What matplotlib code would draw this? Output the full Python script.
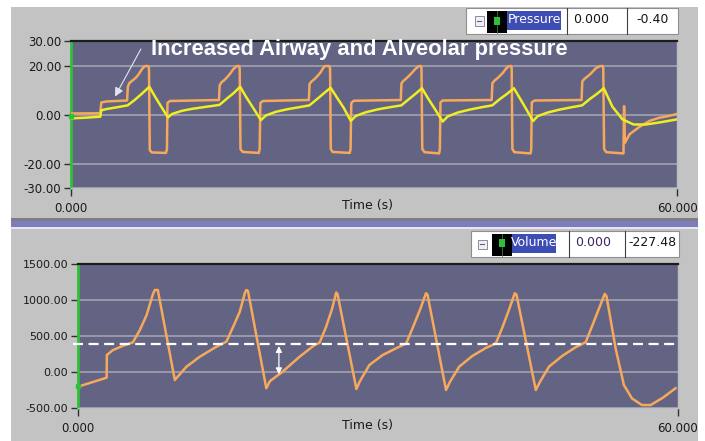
import matplotlib
matplotlib.use("Agg")
import matplotlib.pyplot as plt
from matplotlib.patches import Rectangle
from matplotlib.lines import Line2D

# ---------------- data ----------------
airway_t = [0.0, 2.9, 3.0, 3.5, 5.55, 5.63, 5.8, 6.1, 6.4, 6.7, 6.9, 7.1, 7.3, 7.6, 7.72, 7.8, 8.0, 9.4, 9.5, 9.55, 9.8,
            14.65, 14.72, 14.9, 15.2, 15.5, 15.8, 16.05, 16.4, 16.62, 16.7, 16.78, 17.0, 18.6, 18.68, 18.75, 19.0,
            23.55, 23.62, 23.8, 24.1, 24.4, 24.7, 24.9, 25.1, 25.55, 25.65, 25.72, 25.9, 27.6, 27.68, 27.75, 28.0,
            32.65, 32.72, 32.9, 33.2, 33.5, 33.8, 34.1, 34.45, 34.62, 34.7, 34.78, 35.0, 36.45, 36.52, 36.58, 36.8,
            41.65, 41.72, 41.9, 42.2, 42.5, 42.8, 43.05, 43.35, 43.56, 43.63, 43.7, 43.9, 45.5, 45.57, 45.62, 45.9,
            50.55, 50.62, 50.8, 51.1, 51.4, 51.7, 51.95, 52.35, 52.62, 52.7, 52.78, 53.0, 54.7, 54.76, 54.84,
            55.3, 56.3, 57.3, 58.2, 59.2, 60.0]
airway_p = [0.5, 0.6, 5.0, 5.4, 5.8, 11.5, 13.0, 14.0, 15.0, 16.5, 17.8, 19.0, 19.8, 19.9, 19.2, -14.5, -15.4, -15.6, -14.0, 4.8, 5.6,
            6.0, 12.0, 13.2, 14.2, 15.5, 17.0, 18.5, 19.8, 19.9, 19.0, -14.0, -15.2, -15.6, -14.0, 4.8, 5.6,
            6.0, 12.5, 13.5, 14.5, 15.8, 17.2, 18.6, 19.8, 19.9, 19.0, -14.0, -15.2, -15.6, -14.0, 4.8, 5.7,
            6.0, 12.8, 13.8, 14.8, 16.0, 17.3, 18.7, 19.8, 19.9, 19.0, -14.0, -15.3, -15.8, -14.0, 5.0, 5.8,
            6.0, 12.8, 13.8, 14.8, 16.0, 17.3, 18.7, 19.8, 19.9, 19.0, -14.0, -15.3, -15.8, -14.0, 5.0, 5.8,
            6.0, 13.5, 14.5, 15.5, 16.5, 17.8, 18.9, 19.8, 19.9, 19.0, -14.0, -15.3, -15.8, 3.5, -11.5,
            -8.0, -4.9, -2.5, -1.3, -0.5, 0.3]

alveolar_t = [0.0, 1.5, 2.9, 3.0, 3.5, 4.5, 5.6, 6.3, 7.0, 7.76, 8.3, 8.9, 9.6, 10.0, 11.0, 12.0, 13.5, 14.7, 15.5, 16.1,
              16.75, 17.3, 18.0, 18.8, 19.3, 20.3, 21.5, 22.5, 23.6, 24.4, 25.0, 25.7, 26.3, 27.0, 27.7, 28.2, 29.2,
              30.4, 31.5, 32.7, 33.5, 34.1, 34.75, 35.3, 36.0, 36.8, 37.3, 38.3, 39.5, 40.6, 41.7, 42.5, 43.2, 43.85,
              44.4, 45.0, 45.75, 46.2, 47.2, 48.4, 49.5, 50.6, 51.4, 52.1, 52.75, 53.6, 54.6, 55.7, 56.9, 58.5, 60.0]
alveolar_p = [-1.5, -1.2, -0.8, 1.8, 2.3, 3.0, 3.8, 6.0, 8.5, 11.4, 7.5, 3.5, -1.1, 0.3, 1.6, 2.4, 3.3, 4.0, 6.8, 8.8,
              11.4, 7.5, 3.0, -2.2, -0.3, 1.2, 2.3, 3.0, 3.8, 6.5, 8.6, 11.0, 7.2, 2.8, -2.5, -0.5, 1.0,
              2.2, 3.0, 3.8, 6.5, 8.5, 10.8, 7.0, 2.5, -2.8, -0.7, 0.9, 2.1, 3.0, 3.8, 6.5, 8.6, 10.8,
              7.0, 2.8, -2.6, -0.6, 0.9, 2.1, 3.0, 3.8, 6.5, 8.6, 10.8, 3.3, -1.9, -4.0, -4.0, -3.0, -1.9]

volume_t = [0.0, 2.86, 2.89, 3.49, 4.5, 5.49, 6.19, 6.86, 7.5, 7.68, 7.98, 9.68, 10.85, 12.18, 13.84, 14.84, 15.47,
            16.17, 16.7, 16.84, 17.0, 18.83, 19.2, 20.46, 22.16, 23.65, 24.15, 24.8, 25.4, 25.82, 25.95, 27.84, 28.2,
            29.14, 30.47, 31.81, 32.83, 33.5, 34.2, 34.8, 34.95, 36.8, 37.2, 38.12, 39.45, 40.79, 41.79, 42.45, 43.1,
            43.68, 43.85, 45.78, 46.2, 47.1, 48.43, 49.77, 50.77, 51.4, 52.05, 52.67, 52.85, 53.76, 54.59, 55.39,
            56.39, 57.26, 58.5, 59.75]
volume_v = [-208, -83, 232, 300, 360, 408, 580, 787, 1080, 1135, 1135, -115, 70, 208, 347, 417, 610,
            830, 1100, 1135, 1120, -230, -130, 0, 208, 370, 400, 620, 870, 1100, 1080, -240, -130,
            93, 232, 325, 394, 620, 860, 1090, 1070, -254, -140, 70, 220, 330, 394, 620, 860,
            1090, 1070, -254, -140, 70, 220, 340, 410, 630, 860, 1080, 1050, 325, -185, -370,
            -463, -463, -360, -230]

reference_volume = 380
p_ticks = [30, 20, 0, -20, -30]
p_ticklabels = ["30.00", "20.00", "0.00", "-20.00", "-30.00"]
v_ticks = [1500, 1000, 500, 0, -500]
v_ticklabels = ["1500.00", "1000.00", "500.00", "0.00", "-500.00"]
x_ticks = [0, 60]
x_ticklabels = ["0.000", "60.000"]
legend_top = ["Pressure", "0.000", "-0.40"]
legend_bottom = ["Volume", "0.000", "-227.48"]
annotation = "Increased Airway and Alveolar pressure"

# ---------------- styling ----------------
W, H = 705, 441
GRAY = "#c3c3c3"
PLOT_BG = "#636484"
ORANGE = "#f6a95a"
YELLOW = "#eeee22"
GRID = "#a2a2ae"
GREEN = "#2fbf3a"

fig = plt.figure(figsize=(W / 100, H / 100), dpi=100)
fig.patch.set_facecolor("white")


def rect(x0, y0, x1, y1, **kw):
    r = Rectangle((x0 / W, 1 - y1 / H), (x1 - x0) / W, (y1 - y0) / H,
                  transform=fig.transFigure, **kw)
    fig.add_artist(r)
    return r


def vline(x, y0, y1, **kw):
    fig.add_artist(Line2D([x / W, x / W], [1 - y0 / H, 1 - y1 / H], transform=fig.transFigure, **kw))


def ftext(x, y, s, **kw):
    fig.text(x / W, 1 - y / H, s, **kw)


# panels
rect(11, 7, 698, 218, facecolor=GRAY, edgecolor="none", zorder=0)
rect(11, 217.5, 698, 220.5, facecolor="#7e7e7e", edgecolor="none", zorder=0)
rect(11, 220.5, 698, 227, facecolor="#7c7cbe", edgecolor="none", zorder=0)
rect(11, 227, 698, 228.5, facecolor="#e6e6f2", edgecolor="none", zorder=0)
rect(11, 228.5, 698, 441, facecolor=GRAY, edgecolor="none", zorder=0)


def legend_box(x0, x1, y0, y1, icon_x, black_x0, black_x1, blue_x1, div1, div2, labels, val_color):
    rect(x0, y0, x1, y1, facecolor="white", edgecolor="#8f8f8f", lw=0.8, zorder=2)
    yc = (y0 + y1) / 2
    rect(icon_x, yc - 4.5, icon_x + 8.5, yc + 4.5, facecolor="#eef0f6", edgecolor="#8a8aa0", lw=0.7, zorder=3)
    fig.add_artist(Line2D([(icon_x + 2.2) / W, (icon_x + 6.3) / W], [1 - yc / H, 1 - yc / H],
                          transform=fig.transFigure, color="#606070", lw=0.8, zorder=4))
    rect(black_x0, y0 + 3, black_x1, y1 - 1, facecolor="black", edgecolor="none", zorder=3)
    gx = (black_x0 + black_x1) / 2
    vline(gx, y0 + 3, y1 - 1, color="#3a7a3a", lw=0.6, zorder=4)
    rect(gx - 2.7, yc - 4.5, gx + 2.7, yc + 3.5, facecolor=GREEN, edgecolor="none", zorder=5)
    rect(black_x1, y0 + 3, blue_x1, y1 - 4, facecolor="#3d4db3", edgecolor="none", zorder=3)
    ftext((black_x1 + blue_x1) / 2, yc - 1.5, labels[0], color="white", fontsize=9, ha="center", va="center",
          zorder=6)
    vline(div1, y0, y1, color="#404040", lw=0.8, zorder=4)
    vline(div2, y0, y1, color="#404040", lw=0.8, zorder=4)
    ftext(div1 + 6, yc - 1.5, labels[1], color=val_color, fontsize=9, ha="left", va="center", zorder=6)
    ftext((div2 + x1) / 2, yc - 1.5, labels[2], color="#151515", fontsize=9, ha="center", va="center", zorder=6)


legend_box(466, 678, 8, 34, 475, 487, 507, 561, 567, 627, legend_top, "#151515")
legend_box(471, 679, 231, 257, 478, 492, 512, 556, 569, 625, legend_bottom, "#3a2466")


def style_axes(ax, ticks, labels, label_size):
    ax.set_facecolor(PLOT_BG)
    ax.set_xlim(0, 60)
    ax.set_yticks(ticks)
    ax.set_yticklabels(labels)
    ax.set_xticks(x_ticks)
    ax.set_xticklabels(x_ticklabels)
    ax.tick_params(axis="y", length=5, width=1, color="#303030", labelsize=label_size, pad=2,
                   labelcolor="#1a1a1a")
    ax.tick_params(axis="x", length=6, width=1, color="#303030", labelsize=8.5, pad=4, labelcolor="#1a1a1a")
    ax.yaxis.grid(True, color=GRID, lw=1.2)
    ax.set_axisbelow(True)
    ax.spines["top"].set_color("#1c1c1c")
    ax.spines["top"].set_linewidth(1.6)
    ax.spines["left"].set_color(GREEN)
    ax.spines["left"].set_linewidth(2.0)
    ax.spines["right"].set_color("#bdbdc4")
    ax.spines["bottom"].set_color("#bdbdc4")
    ax.spines["right"].set_linewidth(1.0)
    ax.spines["bottom"].set_linewidth(1.0)


# ---------------- top: pressure ----------------
ax1 = fig.add_axes([71 / W, 1 - 188.2 / H, 606 / W, 147 / H])
style_axes(ax1, p_ticks, p_ticklabels, 8.5)
ax1.set_ylim(-30, 30)
ax1.plot(airway_t, airway_p, color=ORANGE, lw=1.8, solid_joinstyle="round", zorder=3)
ax1.plot(alveolar_t, alveolar_p, color=YELLOW, lw=1.8, solid_joinstyle="round", zorder=4)
ax1.plot([alveolar_t[0]], [alveolar_p[0] + 0.8], marker="s", ms=3.5, color=GREEN, clip_on=False, zorder=5)
ax1.text(7.97, 24.3, annotation, color="white", fontweight="bold", fontsize=15.8,
         family=["Liberation Sans", "DejaVu Sans"], va="baseline", ha="left", clip_on=False, zorder=6)
ax1.annotate("", xy=(4.35, 7.4), xytext=(6.92, 26.8),
             arrowprops=dict(arrowstyle="-|>", color="#e4e4ee", lw=0.8, mutation_scale=13, shrinkA=0, shrinkB=0),
             zorder=6)
ftext(367, 206, "Time (s)", fontsize=9, color="#1a1a1a", ha="center", va="center")

# ---------------- bottom: volume ----------------
ax2 = fig.add_axes([78 / W, 1 - 407.7 / H, 600 / W, 144 / H])
style_axes(ax2, v_ticks, v_ticklabels, 8)
ax2.set_ylim(-500, 1500)
ax2.plot(volume_t, volume_v, color=ORANGE, lw=1.8, solid_joinstyle="round", zorder=3)
ax2.plot([volume_t[0]], [volume_v[0] + 10], marker="s", ms=3.5, color=GREEN, clip_on=False, zorder=5)
ax2.axhline(reference_volume, xmin=-0.008, xmax=0.995, color="white", lw=1.6, ls=(0, (4.5, 2.5)),
            clip_on=False, zorder=4)
ax2.annotate("", xy=(20.09, -36), xytext=(20.09, 357),
             arrowprops=dict(arrowstyle="<|-|>", color="white", lw=0.9, mutation_scale=9, shrinkA=0, shrinkB=0),
             zorder=6)
ftext(367, 425, "Time (s)", fontsize=9, color="#1a1a1a", ha="center", va="center")

fig.savefig("out.png", dpi=100, facecolor=fig.get_facecolor())
